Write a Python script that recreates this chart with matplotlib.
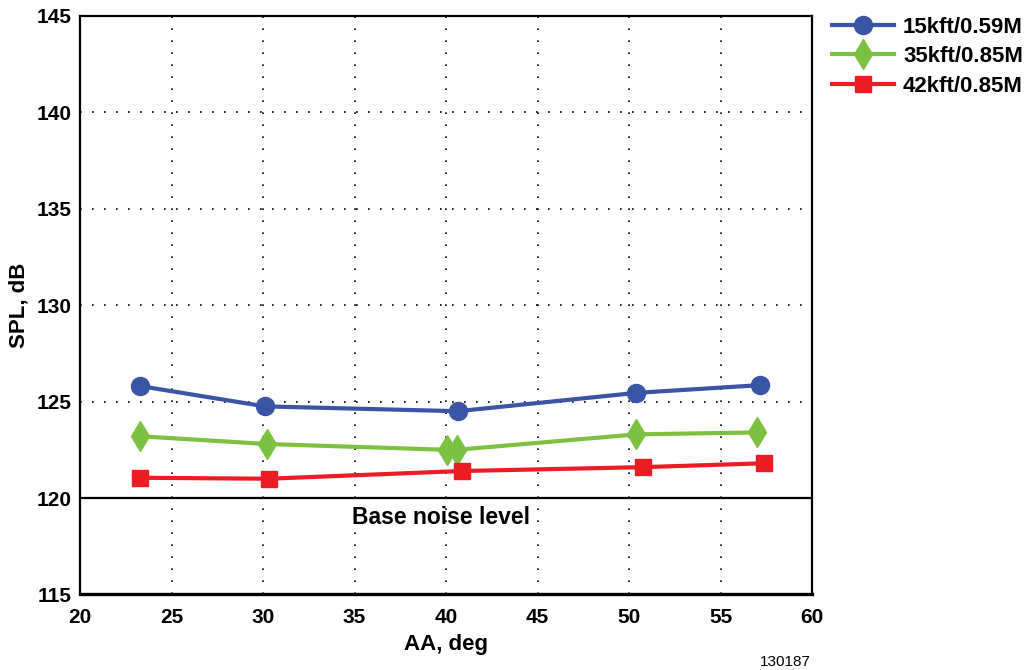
import matplotlib
matplotlib.use("Agg")
import matplotlib.pyplot as plt

# ---- data ----
x_15k = [23.3, 30.1, 40.65, 50.4, 57.15]
y_15k = [125.8, 124.75, 124.5, 125.45, 125.85]

x_35k = [23.3, 30.2, 40.05, 40.6, 50.4, 57.0]
y_35k = [123.2, 122.8, 122.5, 122.5, 123.3, 123.4]

x_42k = [23.3, 30.3, 40.85, 50.75, 57.35]
y_42k = [121.05, 121.0, 121.4, 121.6, 121.8]

labels = ["15kft/0.59M", "35kft/0.85M", "42kft/0.85M"]
xticks = [20, 25, 30, 35, 40, 45, 50, 55, 60]
yticks = [115, 120, 125, 130, 135, 140, 145]
base_level = 120

plt.rcParams['font.family'] = ['Liberation Sans', 'DejaVu Sans']

fig = plt.figure(figsize=(10.27, 6.70), dpi=100)
ax = fig.add_axes([0.0779, 0.1127, 0.7128, 0.8639])

blue = '#3B55A6'
green = '#7CC142'
red = '#EC1C24'

ax.plot(x_15k, y_15k, color=blue, lw=3, marker='o', ms=13, label=labels[0], zorder=5)
ax.plot(x_35k, y_35k, color=green, lw=3, marker='d', ms=15, label=labels[1], zorder=5)
ax.plot(x_42k, y_42k, color=red, lw=3, marker='s', ms=11, label=labels[2], zorder=5)

ax.set_xlim(20, 60)
ax.set_ylim(115, 145)
ax.set_xticks(xticks)
ax.set_yticks(yticks)
ax.tick_params(length=0, labelsize=15)
ax.tick_params(axis='x', pad=9.5)
ax.tick_params(axis='y', pad=6)
for t in ax.get_xticklabels() + ax.get_yticklabels():
    t.set_fontweight('bold')

# dotted grid
for xv in xticks[1:-1]:
    ax.axvline(xv, color='black', lw=1.2, ls=(0, (1, 6.2)), zorder=1)
for yv in yticks[2:-1]:
    ax.axhline(yv, color='black', lw=1.2, ls=(0, (1, 6.2)), zorder=1)

ax.axhline(base_level, color='black', lw=1.6, zorder=3)
ax.text(39.72, 118.97, "Base noise level", ha='center', va='center',
        fontsize=16.5, fontweight='bold')

for s in ax.spines.values():
    s.set_linewidth(1.6)
ax.spines['bottom'].set_linewidth(2.4)

ax.set_xlabel("AA, deg", fontsize=16, fontweight='bold', labelpad=5)
ax.set_ylabel("SPL, dB", fontsize=16, fontweight='bold', labelpad=5)

fig.legend(loc='upper left', bbox_to_anchor=(0.810, 0.975), frameon=False,
           borderpad=0, borderaxespad=0, handlelength=2.8, handletextpad=0.4,
           labelspacing=0.38, prop={'size': 16, 'weight': 'bold'})

fig.text(0.789, 0.012, "130187", ha='right', va='center', fontsize=11)

fig.savefig("out.png", dpi=100)
